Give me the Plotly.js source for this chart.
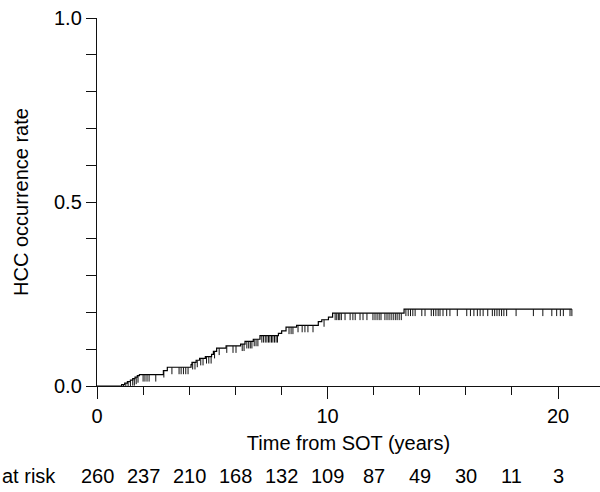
<!DOCTYPE html>
<html>
<head>
<meta charset="utf-8">
<script src="https://cdn.plot.ly/plotly-3.0.1.min.js"></script>
<style>html,body{margin:0;padding:0;background:#fff;}#chart{width:600px;height:492px;}</style>
</head>
<body>
<div id="chart"></div>
<script>
// Event times (years) and cumulative HCC occurrence rate after each event
const eventTimes = [0, 1.07, 1.2, 1.32, 1.45, 1.55, 1.65, 1.75, 1.84, 2.88, 3.05,
  4.08, 4.12, 4.3, 4.45, 4.7, 4.97, 5.05, 5.19, 5.6, 6.23, 6.42, 6.78, 7.07,
  7.87, 8.01, 8.2, 8.66, 9.6, 9.75, 10.04, 10.22, 13.32];
const eventRates = [0, 0.004, 0.008, 0.012, 0.016, 0.020, 0.024, 0.028, 0.031, 0.042, 0.051,
  0.058, 0.064, 0.070, 0.075, 0.080, 0.086, 0.094, 0.103, 0.109, 0.114, 0.121, 0.127, 0.137,
  0.143, 0.150, 0.160, 0.165, 0.175, 0.180, 0.187, 0.198, 0.209];
const followUpEnd = 20.6;

// Censored observation times (years)
const censorTimes = [1.15, 1.25, 1.35, 1.45, 1.55, 1.62, 1.7, 1.78,
  2.0, 2.08, 2.17, 2.26, 2.55, 2.9, 3.25, 3.56, 3.65, 3.75, 3.85, 3.95,
  4.15, 4.25, 4.35, 4.5, 4.6, 4.75, 4.85, 4.95, 5.1, 5.3, 5.63, 5.9, 6.03,
  6.3, 6.38, 6.5, 6.58, 6.65, 6.72, 6.82, 6.9, 6.98,
  7.15, 7.22, 7.3, 7.37, 7.44, 7.5, 7.57, 7.63, 7.7, 7.77, 7.83,
  8.33, 8.42, 8.5, 8.72, 8.9, 9.02, 9.15, 9.37, 9.85,
  10.33, 10.4, 10.47, 10.53, 10.6, 10.76, 10.98, 11.1, 11.2, 11.41, 11.54, 11.71,
  11.97, 12.06, 12.15, 12.24, 12.32, 12.49, 12.58, 12.67, 12.76, 12.85, 12.94, 13.02, 13.11, 13.2,
  13.4, 13.5, 13.6, 13.7, 13.8, 14.09, 14.23, 14.5, 14.6, 14.7, 14.8,
  14.88, 15.01, 15.17, 15.31, 15.63, 16.04, 16.2, 16.35, 16.5, 16.62,
  16.75, 16.95, 17.15, 17.25, 17.35, 17.45, 17.55, 17.65, 17.77,
  18.18, 18.93, 19.34, 19.73, 19.94, 20.1, 20.23, 20.52, 20.6];

// Number at risk table
const atRiskLabel = 'at risk';
const atRiskTimes = [0, 2, 4, 6, 8, 10, 12, 14, 16, 18, 20];
const atRiskCounts = [260, 237, 210, 168, 132, 109, 87, 49, 30, 11, 3];

const FONT = 'Liberation Sans, Arial, Helvetica, sans-serif';
const FS = 20;
const TICK_DROP = 0.019; // censor mark length in rate units

function rateAt(t) {
  let r = 0;
  for (let i = 0; i < eventTimes.length; i++) {
    if (eventTimes[i] <= t) r = eventRates[i];
  }
  return r;
}

const curveX = eventTimes.concat([followUpEnd]);
const curveY = eventRates.concat([eventRates[eventRates.length - 1]]);

const censorY = censorTimes.map(rateAt);

const traces = [
  {
    x: curveX, y: curveY, type: 'scatter', mode: 'lines',
    line: {shape: 'hv', color: '#000', width: 1.2},
    hoverinfo: 'skip', showlegend: false
  },
  {
    x: censorTimes, y: censorY, type: 'scatter', mode: 'markers',
    marker: {size: 0.1, opacity: 0},
    error_y: {type: 'data', symmetric: false, array: censorTimes.map(() => 0),
      arrayminus: censorTimes.map(() => TICK_DROP), width: 0, thickness: 1, color: '#111'},
    hoverinfo: 'skip', showlegend: false
  }
];

const annotations = atRiskTimes.map((t, i) => ({
  x: t, xref: 'x', y: -0.245, yref: 'paper', text: String(atRiskCounts[i]),
  showarrow: false, xanchor: 'center', yanchor: 'middle',
  font: {family: FONT, size: FS, color: '#000'}
}));
annotations.push({
  x: -0.1928, xref: 'paper', y: -0.245, yref: 'paper', text: atRiskLabel,
  showarrow: false, xanchor: 'left', yanchor: 'middle',
  font: {family: FONT, size: FS, color: '#000'}
});

const layout = {
  width: 600, height: 492,
  margin: {l: 97, r: 0, t: 18, b: 106, pad: 0},
  paper_bgcolor: '#fff', plot_bgcolor: '#fff',
  font: {family: FONT, size: FS, color: '#000'},
  xaxis: {
    range: [0, 21.82], showgrid: false, zeroline: false,
    showline: true, linecolor: '#111', linewidth: 1.2,
    tickmode: 'array', tickvals: [0, 10, 20], ticktext: ['0', '10', '20'],
    ticks: 'outside', ticklen: 12, tickwidth: 1, tickcolor: '#111',
    minor: {tickmode: 'linear', tick0: 0, dtick: 2, ticks: 'outside', ticklen: 8, tickwidth: 1, tickcolor: '#111', showgrid: false},
    tickfont: {family: FONT, size: FS, color: '#000'},
    title: {text: 'Time from SOT (years)', font: {family: FONT, size: FS, color: '#000'}, standoff: 9},
    fixedrange: true
  },
  yaxis: {
    range: [0, 1], showgrid: false, zeroline: false,
    showline: true, linecolor: '#111', linewidth: 1.2,
    tickmode: 'array', tickvals: [0, 0.5, 1], ticktext: ['0.0', '0.5', '1.0'],
    ticks: 'outside', ticklen: 10, tickwidth: 1, tickcolor: '#111',
    minor: {tickmode: 'linear', tick0: 0, dtick: 0.1, ticks: 'outside', ticklen: 10, tickwidth: 1, tickcolor: '#111', showgrid: false},
    tickfont: {family: FONT, size: FS, color: '#000'},
    title: {text: 'HCC occurrence rate', font: {family: FONT, size: FS, color: '#000'}, standoff: 20},
    fixedrange: true
  },
  annotations: annotations,
  showlegend: false
};

Plotly.newPlot('chart', traces, layout, {displayModeBar: false, staticPlot: true});
</script>
</body>
</html>
